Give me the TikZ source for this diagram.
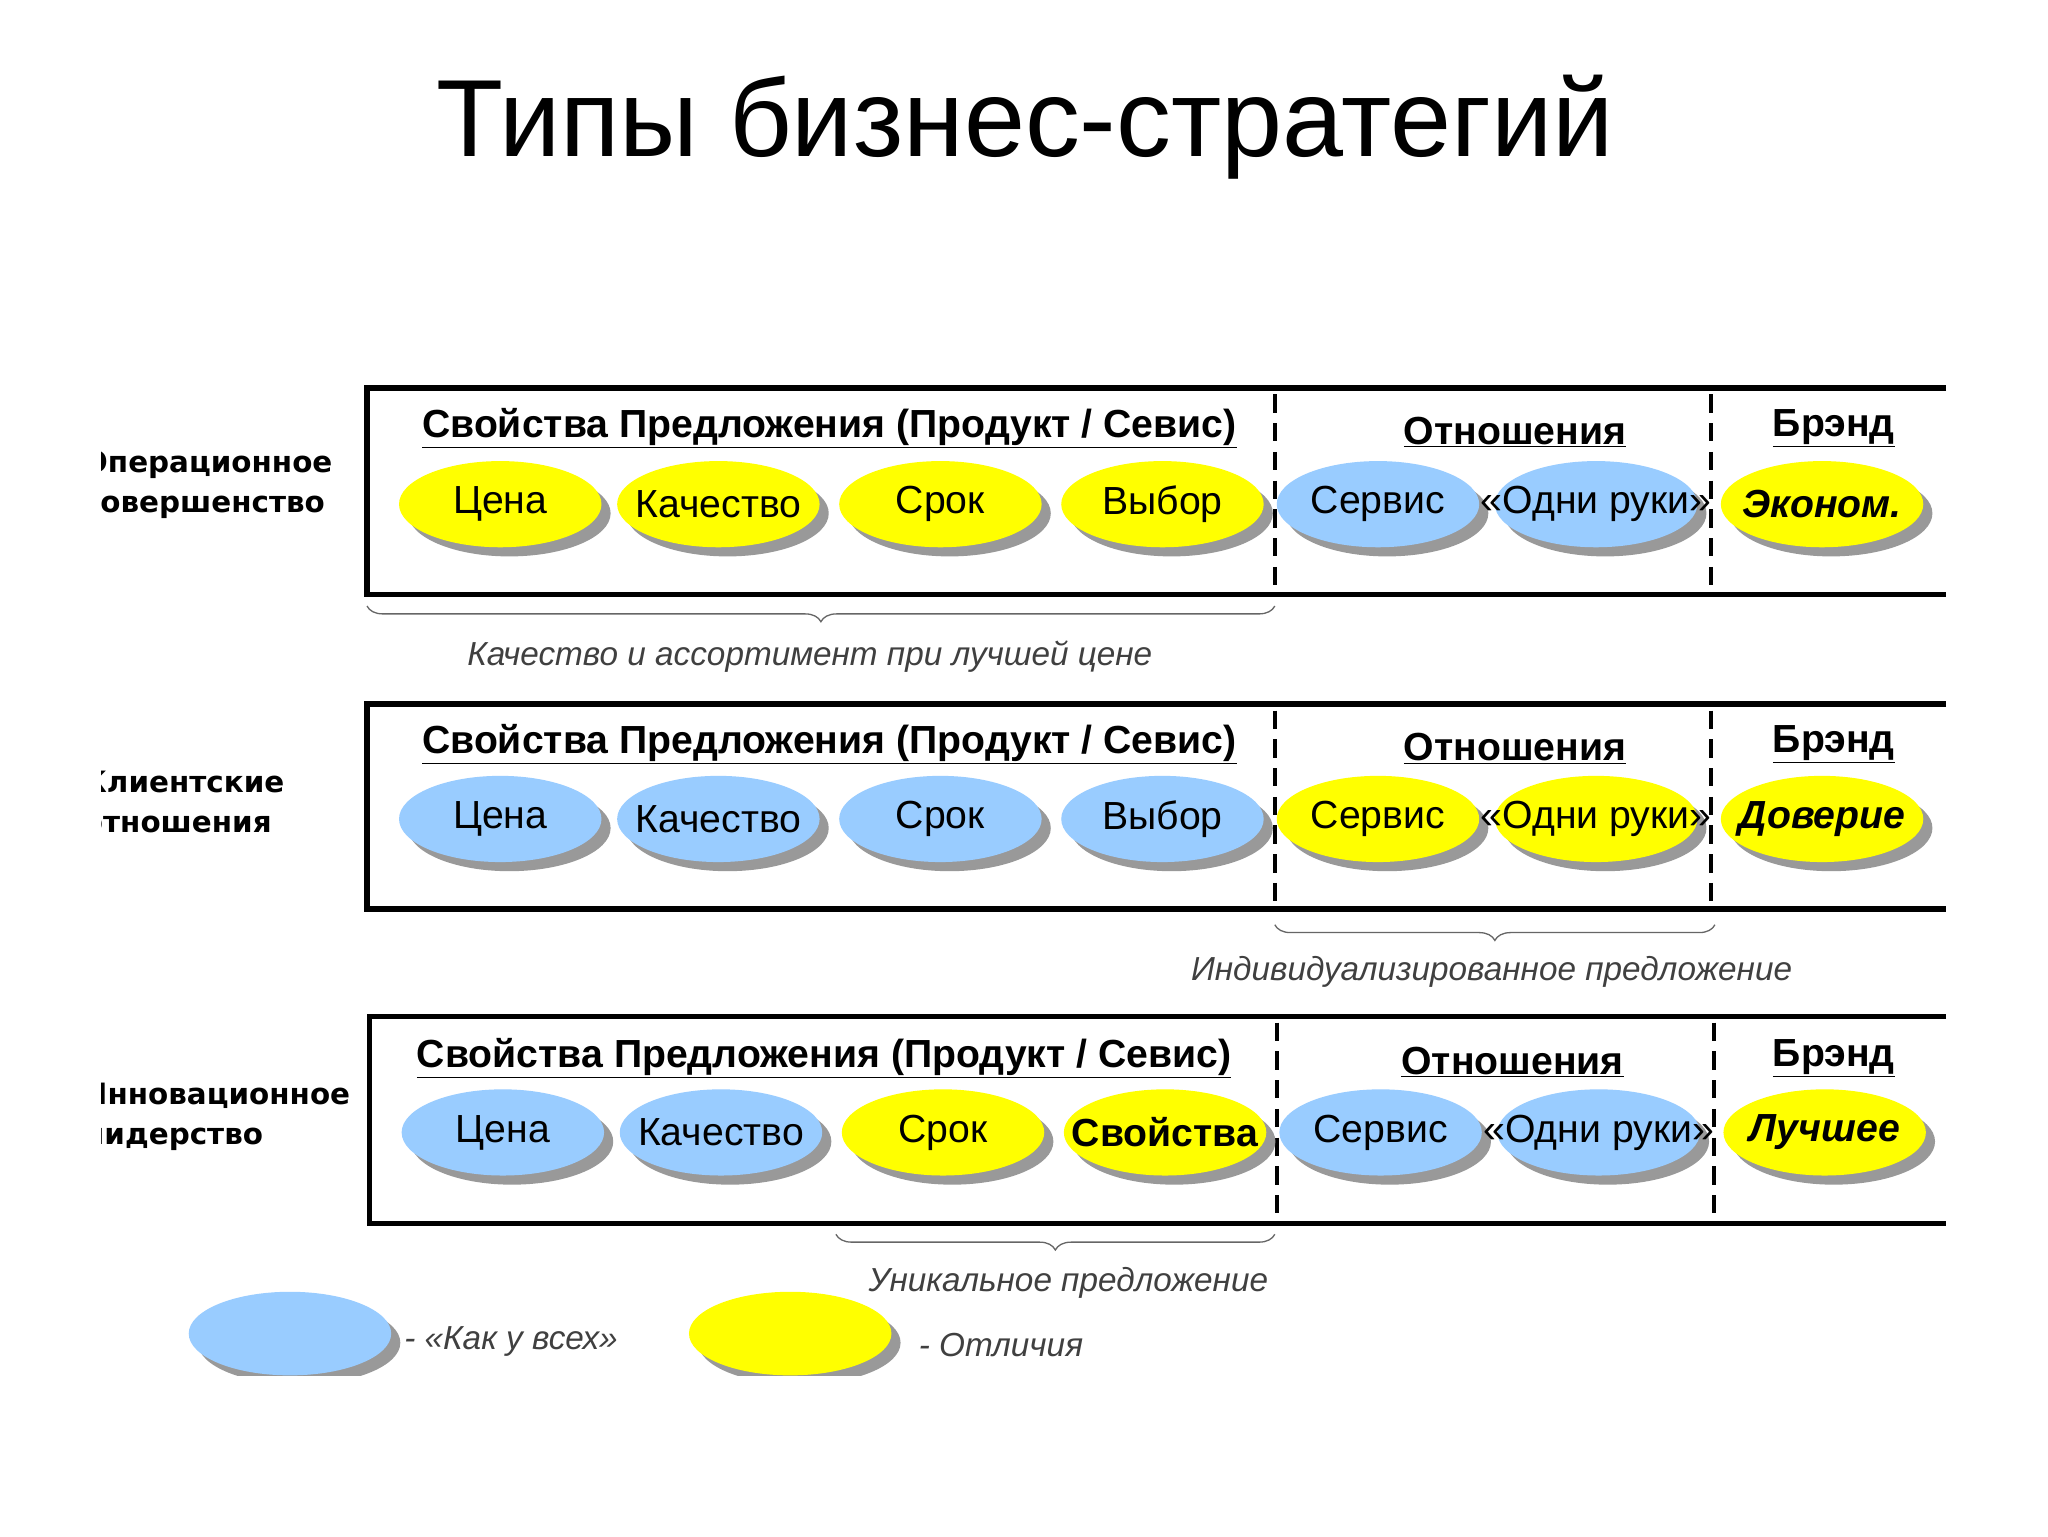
\documentclass[tikz,border=0pt]{standalone}
\usepackage{fontspec}
\setmainfont{Liberation Sans}
\newfontfamily\lblfont{DejaVu Sans}
\usetikzlibrary{shapes.geometric,shadows,decorations.pathreplacing}
\definecolor{eblue}{RGB}{153,204,255}
\definecolor{eyel}{RGB}{255,255,0}
\tikzset{
 ell/.style={ellipse,minimum width=155pt,minimum height=66pt,inner sep=0pt,
   drop shadow={shadow xshift=7pt,shadow yshift=-7pt,fill=black!40,opacity=1}},
 bl/.style={ell,fill=eblue},
 yl/.style={ell,fill=eyel},
 etxt/.style={font=\fontsize{30}{32}\selectfont,inner sep=0pt},
 hdr/.style={font=\fontsize{30}{33}\selectfont\bfseries},
 frame/.style={line width=4pt},
 dsh/.style={line width=3pt,dash pattern=on 14pt off 8pt},
 rowlbl/.style={font=\lblfont\fontsize{22.5}{31}\selectfont\bfseries,align=left,anchor=west},
 note/.style={font=\fontsize{25.5}{28}\selectfont\itshape,text=black!75},
 brc/.style={decorate,decoration={brace,mirror,amplitude=12pt},line width=1pt,draw=black!60}
}
\newcommand{\el}[4]{\node[#1] (#2) at (#3) {}; \node[etxt] (#2t) at (#2) {#4};}
\begin{document}
\begin{tikzpicture}[x=1pt,y=-1pt]
\useasboundingbox[fill=white] (0,0) rectangle (1568,1176);
\node (title) at (785,97) {\fontsize{84}{90}\selectfont Типы бизнес-стратегий};
\begin{scope}
\clip (78,300) rectangle (300,900);
\node[rowlbl] (l1) at (60,371) {Операционное\\совершенство};
\node[rowlbl] (l2) at (60,614) {Клиентские\\отношения};
\node[rowlbl] (l3) at (60,855) {Инновационное\\лидерство};
\end{scope}
\foreach \t/\b/\xs in {297/455/281, 539/696/281, 778/937/283}{
  \draw[frame] (1490,\t) -- (\xs,\t) -- (\xs,\b) -- (1490,\b);
}
\foreach \t/\b/\xa/\xb in {297/455/976/1310, 539/696/976/1310, 778/937/978/1312}{
  \draw[dsh] (\xa,\t+5) -- (\xa,\b-5);
  \draw[dsh] (\xb,\t+5) -- (\xb,\b-5);
}
\foreach \y/\dx [count=\i] in {328/0, 570/0, 810/-4}{
  \node[hdr] (h1\i) at (635+\dx,\y) {\underline{Свойства Предложения (Продукт / Севис)}};
  \node[hdr] (h2\i) at (1160+\dx/2,\y+3) {\underline{Отношения}};
  \node[hdr] (h3\i) at (1404,\y) {\underline{Брэнд}};
}
\el{yl}{a1}{383,386}{Цена}
\el{yl}{a2}{550,386}{Качество}
\el{yl}{a3}{720,386}{Срок}
\el{yl}{a4}{890,386}{Выбор}
\el{bl}{a5}{1055,386}{Сервис}
\el{bl}{a6}{1222,386}{«Одни руки»}
\el{yl}{a7}{1395,386}{\bfseries\itshape Эконом.}
\el{bl}{b1}{383,627}{Цена}
\el{bl}{b2}{550,627}{Качество}
\el{bl}{b3}{720,627}{Срок}
\el{bl}{b4}{890,627}{Выбор}
\el{yl}{b5}{1055,627}{Сервис}
\el{yl}{b6}{1222,627}{«Одни руки»}
\el{yl}{b7}{1395,627}{\bfseries\itshape Доверие}
\el{bl}{c1}{385,867}{Цена}
\el{bl}{c2}{552,867}{Качество}
\el{yl}{c3}{722,867}{Срок}
\el{yl}{c4}{892,867}{\bfseries Свойства}
\el{bl}{c5}{1057,867}{Сервис}
\el{bl}{c6}{1224,867}{«Одни руки»}
\el{yl}{c7}{1397,867}{\bfseries\itshape Лучшее}
\coordinate (p1) at (281,464); \coordinate (p2) at (976,464);
\draw[brc] (p1) -- (p2);
\node[note] (n1) at (620,503) {Качество и ассортимент при лучшей цене};
\coordinate (q1) at (976,708); \coordinate (q2) at (1313,708);
\draw[brc] (q1) -- (q2);
\node[note] (n2) at (1142,744) {Индивидуализированное предложение};
\coordinate (s1) at (640,945); \coordinate (s2) at (976,945);
\draw[brc] (s1) -- (s2);
\node[note] (n3) at (818,982) {Уникальное предложение};
\begin{scope}
\clip (100,960) rectangle (900,1053);
\node[bl,minimum height=64pt] (lg1) at (222,1021) {};
\node[yl,minimum height=64pt] (lg2) at (605,1021) {};
\end{scope}
\node[note,anchor=west] (lt1) at (306,1027) {- «Как у всех»};
\node[note,anchor=west] (lt2) at (700,1030) {- Отличия};
\end{tikzpicture}
\end{document}
